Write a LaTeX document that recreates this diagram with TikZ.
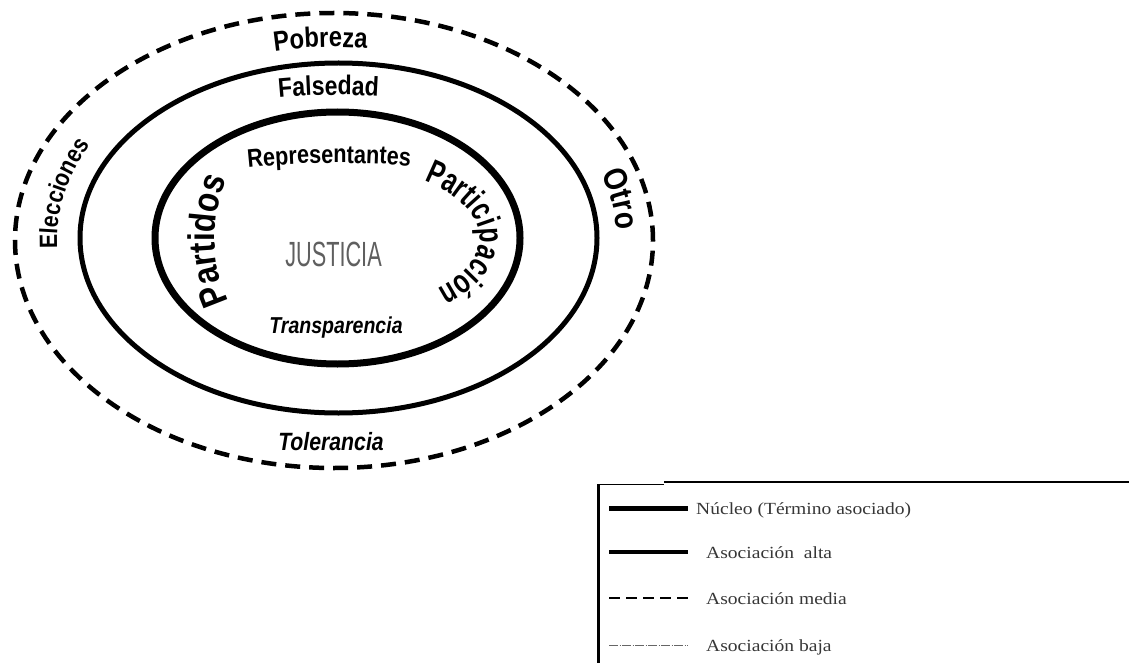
\documentclass[tikz,border=0pt]{standalone}
\usepackage{fontspec}
\usetikzlibrary{decorations.text}
\newfontfamily\ringfont[FakeStretch=0.85]{Liberation Sans}
\newfontfamily\ringnarrow[FakeStretch=0.72]{Liberation Sans}
\newfontfamily\justfont[FakeStretch=0.62]{Liberation Sans}
\newfontfamily\legfont[FakeStretch=1.15]{Liberation Serif}
\newcommand\fsPob{\ringfont\bfseries\fontsize{28}{28}\selectfont}
\newcommand\fsFal{\ringfont\bfseries\fontsize{27}{27}\selectfont}
\newcommand\fsRep{\ringfont\bfseries\fontsize{25.5}{25.5}\selectfont}
\newcommand\fsPar{\ringfont\bfseries\fontsize{37}{37}\selectfont}
\newcommand\fsPci{\ringnarrow\bfseries\fontsize{34}{34}\selectfont}
\newcommand\fsEle{\ringfont\bfseries\fontsize{25}{25}\selectfont}
\newcommand\fsOtr{\ringfont\bfseries\fontsize{33}{33}\selectfont}
\definecolor{justgray}{RGB}{95,95,95}
\definecolor{leggray}{RGB}{55,55,55}
\begin{document}
\begin{tikzpicture}[x=1pt,y=1pt,
  outerring/.style={draw=black,line width=4.5pt,dash pattern=on 15pt off 9pt},
  midring/.style={draw=black,line width=5pt},
  innerring/.style={draw=black,line width=7pt},
  legtext/.style={font=\legfont\fontsize{17}{17}\selectfont,text=leggray,inner sep=0pt,anchor=base west},
  slanttext/.style={inner sep=0pt,anchor=base}
]
\useasboundingbox (0,0) rectangle (1129,-663);
% rings
\coordinate (co) at (334,-240.5);
\coordinate (cm) at (338.5,-238);
\coordinate (ci) at (337.5,-238);
\draw[outerring] (co) ellipse [x radius=319pt, y radius=227.5pt];
\draw[midring] (cm) ellipse [x radius=258.5pt, y radius=175pt];
\draw[innerring] (ci) ellipse [x radius=182.5pt, y radius=126pt];
% outer band texts
\path[decorate,decoration={text along path,text align=center,text={|\fsPob|Pobreza}}]
  (334,-240) ++(130:280pt and 193pt) arc[start angle=130,end angle=56,x radius=280pt,y radius=193pt];
\path[decorate,decoration={text along path,text align=center,text={|\fsEle|Elecciones}}]
  (334,-240) ++(208.5:277pt and 200pt) arc[start angle=208.5,end angle=128.5,x radius=277pt,y radius=200pt];
\path[decorate,decoration={text along path,text align=center,text={|\fsOtr|Otro}}]
  (334,-240) ++(40:283pt and 203pt) arc[start angle=40,end angle=-20,x radius=283pt,y radius=203pt];
\node[slanttext,font=\ringfont\bfseries\itshape\fontsize{25}{25}\selectfont] (tol) at (331,-450) {Tolerancia};
% middle band
\path[decorate,decoration={text along path,text align=center,text={|\fsFal|Falsedad}}]
  (338,-238) ++(122:300pt and 143pt) arc[start angle=122,end angle=62,x radius=300pt,y radius=143pt];
% inner texts
\path[decorate,decoration={text along path,text align=center,text={|\fsRep|Representantes}}]
  (337.5,-238) ++(137.5:260pt and 75pt) arc[start angle=137.5,end angle=47.5,x radius=260pt,y radius=75pt];
\path[decorate,decoration={text along path,text align=center,text={|\fsPar|Partidos}}]
  (337.5,-238) ++(241:123pt and 135pt) arc[start angle=241,end angle=121,x radius=123pt,y radius=135pt];
\path[decorate,decoration={text along path,text align=center,text={|\fsPci|Participación}}]
  (337.5,-238) ++(93:142pt and 72pt) arc[start angle=93,end angle=-87,x radius=142pt,y radius=72pt];
\node[slanttext,font=\ringfont\bfseries\itshape\fontsize{23}{23}\selectfont] (tra) at (336,-333) {Transparencia};
\node[inner sep=0pt,text=justgray,font=\justfont\fontsize{35}{35}\selectfont] (just) at (333.5,-254.5) {JUSTICIA};
% legend frame
\coordinate (f1) at (598,-484);
\coordinate (f2) at (664,-484);
\coordinate (f3) at (664,-482);
\coordinate (f4) at (1129,-482);
\coordinate (f5) at (598,-663);
\draw[line width=1pt] (f1) -- (f2);
\draw[line width=2pt] (f3) -- (f4);
\draw[line width=3pt] (f1) -- (f5);
% legend rows
\coordinate (a1) at (609,-508); \coordinate (b1) at (688,-508);
\coordinate (a2) at (609,-552); \coordinate (b2) at (688,-552);
\coordinate (a3) at (609,-598); \coordinate (b3) at (688,-598);
\coordinate (a4) at (609,-645); \coordinate (b4) at (688,-645);
\draw[line width=5pt] (a1) -- (b1);
\draw[line width=4pt] (a2) -- (b2);
\draw[line width=2.5pt,dash pattern=on 11pt off 6pt] (a3) -- (b3);
\draw[line width=1pt,draw=black!60,dash pattern=on 9pt off 1.5pt on 1pt off 1.5pt] (a4) -- (b4);
\node[legtext] (n1) at (696,-514) {Núcleo (Término asociado)};
\node[legtext] (n2) at (706,-558) {Asociación\ \ alta};
\node[legtext] (n3) at (706,-604) {Asociación media};
\node[legtext] (n4) at (706,-651) {Asociación baja};
\end{tikzpicture}
\end{document}
